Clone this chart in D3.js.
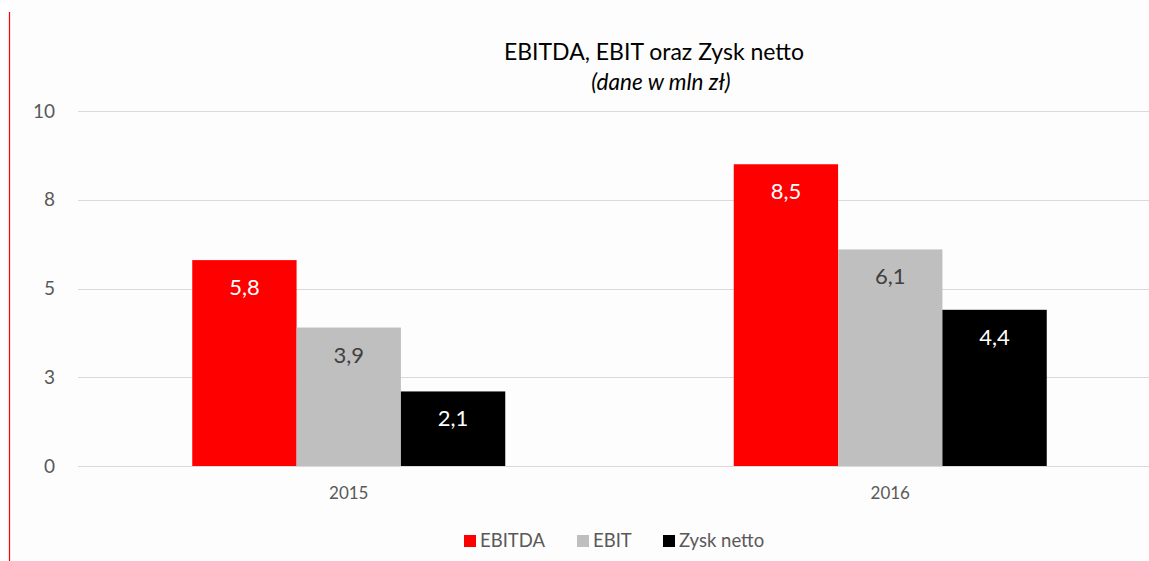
<!DOCTYPE html>
<html>
<head>
<meta charset="utf-8">
<script src="https://cdn.jsdelivr.net/npm/d3@7"></script>
<style>
  html, body { margin: 0; padding: 0; background: #fff; }
  svg { display: block; font-family: Lato, "Open Sans", sans-serif; }
</style>
</head>
<body>
<svg id="chart" width="1149" height="561"></svg>
<script>
const years = ["2015", "2016"];
const seriesNames = ["EBITDA", "EBIT", "Zysk netto"];
const ebitda = [5.8, 8.5];
const ebit = [3.9, 6.1];
const zysk = [2.1, 4.4];
const yTicks = [0, 2.5, 5, 7.5, 10];

const colors = ["#ff0000", "#bfbfbf", "#000000"];
const labelColors = ["#ffffff", "#404040", "#ffffff"];

const width = 1149,
  height = 561;

const svg = d3.select("#chart");

// slightly off-white panel right of the red margin line
svg
  .append("rect")
  .attr("x", 10)
  .attr("y", 0)
  .attr("width", width - 10)
  .attr("height", height)
  .style("fill", "#fdfdfd");

svg
  .append("line")
  .attr("x1", 9.5)
  .attr("x2", 9.5)
  .attr("y1", 12)
  .attr("y2", height)
  .style("stroke", "#ff0000")
  .style("stroke-width", 1.2);

const x = d3.scaleBand().domain(years).range([78, 1161]);
const groupWidth = 313;
const xInner = d3
  .scaleBand()
  .domain(seriesNames)
  .range([0, groupWidth]);

const y = d3.scaleLinear().domain([0, 10]).range([466, 111]);

// gridlines
svg
  .append("g")
  .selectAll("line")
  .data(yTicks)
  .enter()
  .append("line")
  .attr("x1", 78)
  .attr("x2", width)
  .attr("y1", d => Math.round(y(d)) + 0.5)
  .attr("y2", d => Math.round(y(d)) + 0.5)
  .style("stroke", "#d9d9d9")
  .style("stroke-width", 1.2);

// y axis labels
const yAxis = svg
  .append("g")
  .attr("transform", "translate(64,0)")
  .call(
    d3
      .axisLeft(y)
      .tickValues(yTicks)
      .tickSize(0)
      .tickPadding(9)
      .tickFormat(d => d3.format(".0f")(Math.round(d + 0.001)))
  );
yAxis.select(".domain").remove();
yAxis
  .selectAll("text")
  .style("font-size", "19px")
  .style("fill", "#595959")
  .style("font-family", "Lato, sans-serif");

// x axis labels
const xAxis = svg
  .append("g")
  .attr("transform", "translate(0,466)")
  .call(d3.axisBottom(x).tickSize(0).tickPadding(21));
xAxis.select(".domain").remove();
xAxis
  .selectAll("text")
  .style("font-size", "17px")
  .style("fill", "#595959")
  .style("font-family", "Lato, sans-serif");

const table = [];
years.forEach((yr, i) => {
  [ebitda, ebit, zysk].forEach((vals, j) => {
    table.push({ year: yr, series: seriesNames[j], idx: j, value: vals[i] });
  });
});

const groups = svg
  .append("g")
  .selectAll("g")
  .data(table)
  .enter()
  .append("g")
  .attr(
    "transform",
    d => `translate(${x(d.year) + (x.bandwidth() - groupWidth) / 2},0)`
  );

groups
  .append("rect")
  .attr("x", d => xInner(d.series))
  .attr("y", d => y(d.value))
  .attr("width", xInner.bandwidth())
  .attr("height", d => y(0) - y(d.value))
  .style("fill", d => colors[d.idx]);

groups
  .append("text")
  .attr("x", d => xInner(d.series) + xInner.bandwidth() / 2)
  .attr("y", d => y(d.value) + 35)
  .attr("text-anchor", "middle")
  .style("font-size", "22px")
  .style("fill", d => labelColors[d.idx])
  .text(d => d3.format(".1f")(d.value).replace(".", ","));

// title
svg
  .append("text")
  .attr("x", 654)
  .attr("y", 60)
  .attr("text-anchor", "middle")
  .style("font-size", "23px")
  .style("fill", "#000")
  .text("EBITDA, EBIT oraz Zysk netto");

svg
  .append("text")
  .attr("x", 661)
  .attr("y", 90)
  .attr("text-anchor", "middle")
  .style("font-size", "22.5px")
  .style("font-style", "italic")
  .style("fill", "#000")
  .text("(dane w mln zł)");

// legend
const legendX = [464, 577, 663];
const legend = svg
  .append("g")
  .selectAll("g")
  .data(seriesNames)
  .enter()
  .append("g")
  .attr("transform", (d, i) => `translate(${legendX[i]},535)`);

legend
  .append("rect")
  .attr("width", 12)
  .attr("height", 12)
  .style("fill", (d, i) => colors[i]);

legend
  .append("text")
  .attr("x", 16)
  .attr("y", 12)
  .style("font-size", "18.5px")
  .style("fill", "#595959")
  .text(d => d);
</script>
</body>
</html>
